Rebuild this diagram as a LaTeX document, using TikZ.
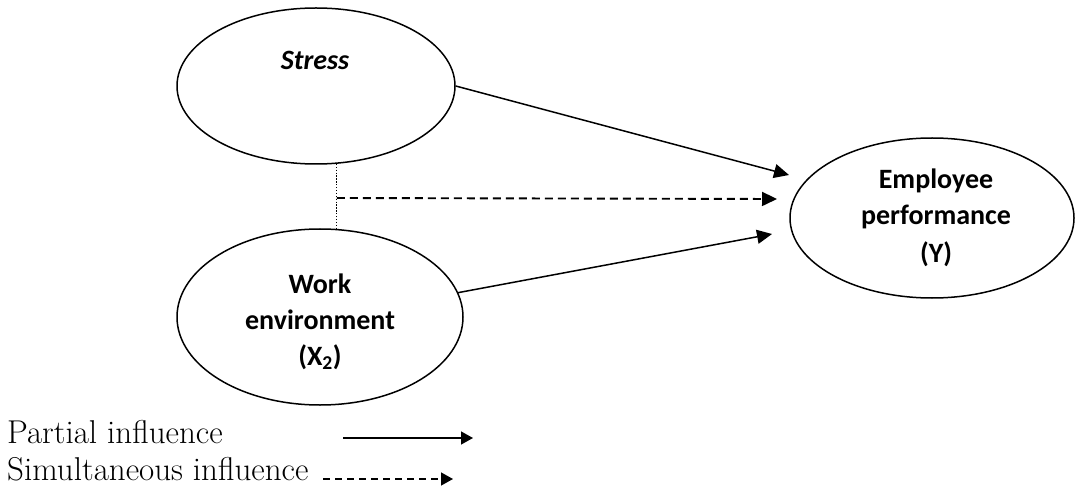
\documentclass[tikz,border=0pt]{standalone}
\usepackage{fontspec}
\newfontfamily\carl{Carlito}
\usetikzlibrary{shapes.geometric,arrows.meta}
\begin{document}
\begin{tikzpicture}[x=1pt,y=-1pt,
  oval/.style={draw, ellipse, line width=1.5pt, inner sep=0pt},
  lbl/.style={font=\carl\bfseries\fontsize{28}{34}\selectfont, anchor=base, inner sep=0pt},
  leg/.style={font=\fontsize{33}{38}\selectfont, anchor=base west, inner sep=0pt},
  conn/.style={line width=1.5pt, -{Triangle[length=15pt,width=14pt]}},
  dconn/.style={conn, line width=1.9pt, dash pattern=on 8pt off 5pt},
  legconn/.style={line width=1.3pt, -{Triangle[length=12pt,width=13pt]}},
  dotl/.style={line width=1.1pt, dash pattern=on 1.3pt off 1.6pt}]
\useasboundingbox (0,0) rectangle (1075,486);

\node[oval, minimum width=278pt, minimum height=156pt] (stress) at (316,86) {};
\node[oval, minimum width=286pt, minimum height=176pt] (work) at (320,317) {};
\node[oval, minimum width=284pt, minimum height=160pt] (emp) at (932,218) {};

\node[lbl, font=\carl\bfseries\itshape\fontsize{28}{34}\selectfont] (s1) at (315,70) {Stress};
\node[lbl] (w1) at (320,293) {Work};
\node[lbl] (w2) at (320,329) {environment};
\node[lbl] (w3) at (320,365) {(X\textsubscript{2})};
\node[lbl] (e1) at (936,189) {Employee};
\node[lbl] (e2) at (936,225) {performance};
\node[lbl] (e3) at (936,262) {(Y)};

\coordinate (tipA) at (789,175);
\coordinate (tipD) at (777,199);
\coordinate (tipB) at (772,234);
\coordinate (j) at (337,198);

\draw[dotl] (stress.-75) -- (stress.-75 |- work.79);
\draw[conn] (stress.east) -- (tipA);
\draw[dconn] (j -| stress.-75) -- (tipD);
\draw[conn] (work.10) -- (tipB);

\node[leg] (p1) at (7,443) {Partial influence};
\node[leg] (p2) at (7,480) {Simultaneous influence};
\coordinate (l1a) at (343,438);
\coordinate (l1b) at (473,438);
\coordinate (l2a) at (323,479);
\coordinate (l2b) at (453,479);
\draw[legconn] (l1a) -- (l1b);
\draw[legconn, dash pattern=on 7pt off 5pt] (l2a) -- (l2b);
\end{tikzpicture}
\end{document}
